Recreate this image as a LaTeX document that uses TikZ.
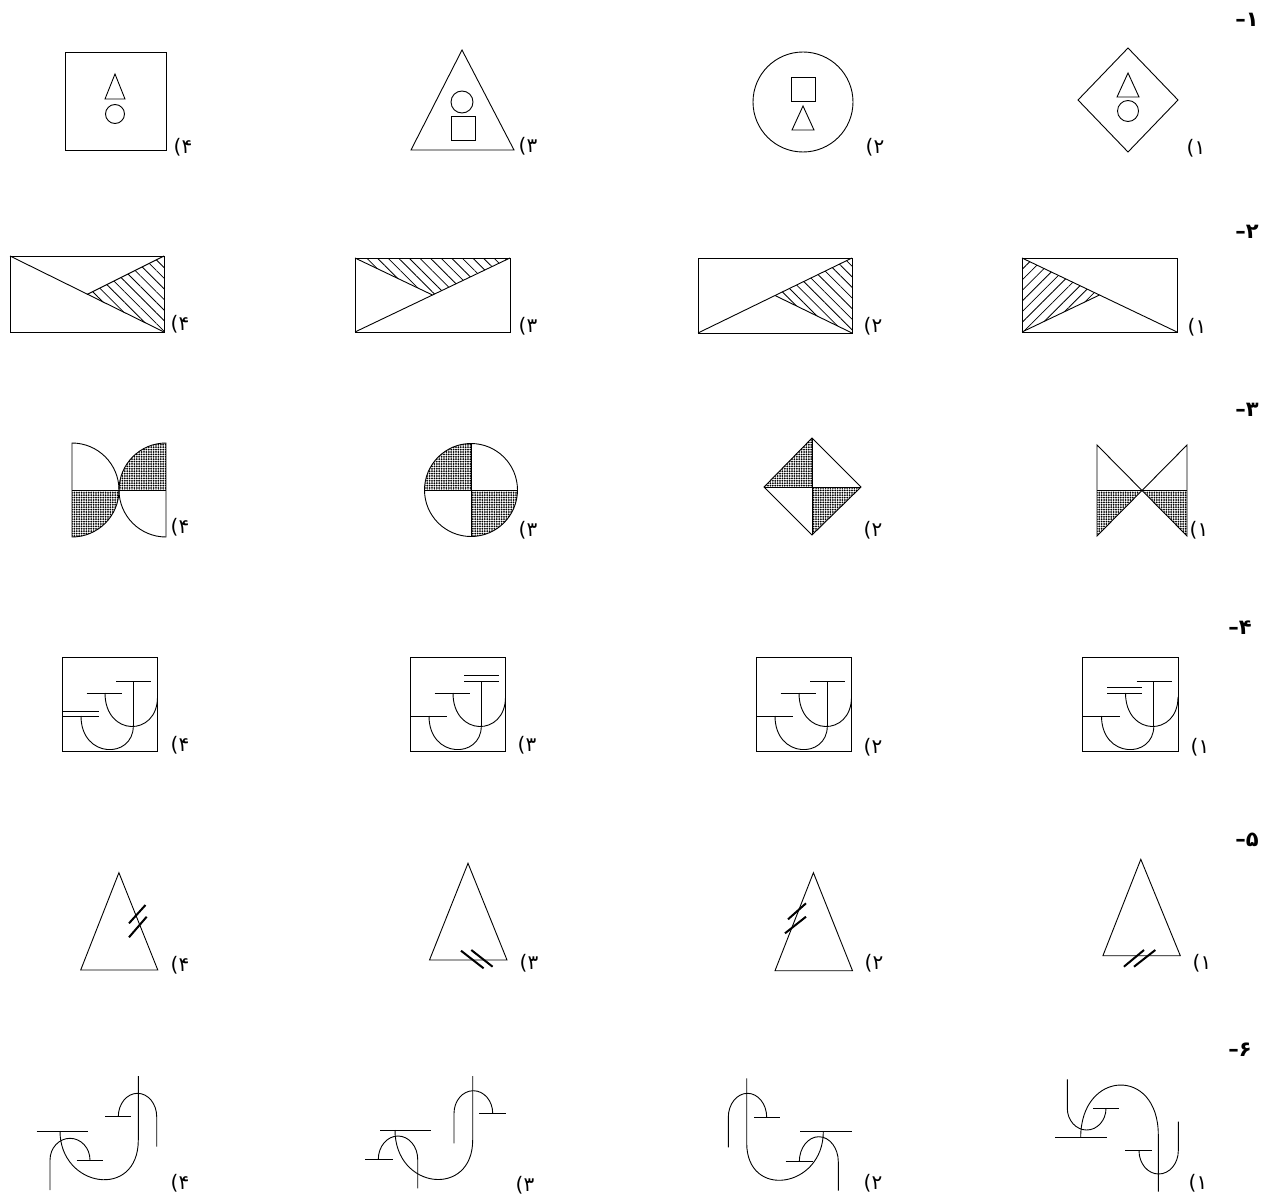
\documentclass[tikz,border=0pt]{standalone}
\usepackage{fontspec}
\newfontfamily\persianfont[Script=Arabic]{DejaVu Sans}
\newfontfamily\plainfont{DejaVu Sans}
\usetikzlibrary{patterns.meta}

\begin{document}
\begin{tikzpicture}[x=1pt,y=-1pt,
fig/.style={line width=0.9pt,line join=miter},
tick/.style={line width=2pt},
hatchL/.style={pattern={Lines[angle=45,distance=7.5pt,line width=0.8pt]}},
hatchR/.style={pattern={Lines[angle=-45,distance=7.5pt,line width=0.8pt]}},
dots/.style={pattern={Dots[distance=2.4pt,radius=1pt]}},
lbl/.style={font=\fontsize{20}{20}\selectfont,inner sep=0pt},
num/.style={font=\bfseries\fontsize{21}{21}\selectfont,inner sep=0pt}]
\useasboundingbox (0,0) rectangle (1268,1196);

% row 1
\node[num] (q1) at (1247,20) {\plainfont –\persianfont ۱};
\draw[fig] (65,52) rectangle (166,150);
\draw[fig] (115,74) -- (105,99) -- (125,99) -- cycle;
\draw[fig] (115,114) circle[radius=9.5];
\node[lbl] (a14) at (183,147) {\plainfont (\persianfont ۴};
\draw[fig] (462,50) -- (411,150) -- (514,150) -- cycle;
\draw[fig] (462,102) circle[radius=11];
\draw[fig] (451,116) rectangle (475,140);
\node[lbl] (a13) at (528,146) {\plainfont (\persianfont ۳};
\draw[fig] (803,102) circle[radius=50];
\draw[fig] (791,77) rectangle (815,101);
\draw[fig] (803,106) -- (792,130) -- (814,130) -- cycle;
\node[lbl] (a12) at (875,147) {\plainfont (\persianfont ۲};
\draw[fig] (1128,48) -- (1178,100) -- (1128,152) -- (1078,100) -- cycle;
\draw[fig] (1128,73) -- (1117,97) -- (1139,97) -- cycle;
\draw[fig] (1128,111) circle[radius=10.5];
\node[lbl] (a11) at (1196,148) {\plainfont (\persianfont ۱};

% row 2
\node[num] (q2) at (1247,232) {\plainfont –\persianfont ۲};
\path[hatchR] (164,256) -- (164,332) -- (87,294.5) -- cycle;
\draw[fig] (10,256) rectangle (164,332);
\draw[fig] (10,256) -- (164,332);
\draw[fig] (164,256) -- (87,294.5);
\node[lbl] (a24) at (180,324) {\plainfont (\persianfont ۴};
\path[hatchR] (355,258) -- (510,258) -- (432.5,295) -- cycle;
\draw[fig] (355,258) rectangle (510,332);
\draw[fig] (355,332) -- (510,258);
\draw[fig] (355,258) -- (432.5,295);
\node[lbl] (a23) at (528,326) {\plainfont (\persianfont ۳};
\path[hatchR] (852,258) -- (852,333) -- (775,295.5) -- cycle;
\draw[fig] (698,258) rectangle (852,333);
\draw[fig] (698,333) -- (852,258);
\draw[fig] (852,333) -- (775,295.5);
\node[lbl] (a22) at (873,326) {\plainfont (\persianfont ۲};
\path[hatchL] (1022,258) -- (1022,332) -- (1099.5,295) -- cycle;
\draw[fig] (1022,258) rectangle (1177,332);
\draw[fig] (1022,258) -- (1177,332);
\draw[fig] (1022,332) -- (1099.5,295);
\node[lbl] (a21) at (1197,327) {\plainfont (\persianfont ۱};

% row 3
\node[num] (q3) at (1247,410) {\plainfont –\persianfont ۳};
\path[dots] (72,490) -- (119,490) arc[start angle=0,end angle=90,radius=47] -- cycle;
\path[dots] (166,490) -- (119,490) arc[start angle=180,end angle=270,radius=47] -- cycle;
\draw[fig] (72,443) arc[start angle=-90,end angle=90,radius=47] -- cycle;
\draw[fig] (166,443) arc[start angle=270,end angle=90,radius=47] -- cycle;
\draw[fig] (72,490) -- (166,490);
\node[lbl] (a34) at (180,527) {\plainfont (\persianfont ۴};
\path[dots] (471,490) -- (424.5,490) arc[start angle=180,end angle=270,radius=46.5] -- cycle;
\path[dots] (471,490) -- (517.5,490) arc[start angle=0,end angle=90,radius=46.5] -- cycle;
\draw[fig] (471,490) circle[radius=46.5];
\draw[fig] (471,443.5) -- (471,536.5);
\draw[fig] (424.5,490) -- (517.5,490);
\node[lbl] (a33) at (528,530) {\plainfont (\persianfont ۳};
\path[dots] (812,438) -- (764,487) -- (812,487) -- cycle;
\path[dots] (812,487) -- (861,487) -- (812,535) -- cycle;
\draw[fig] (812,438) -- (861,487) -- (812,535) -- (764,487) -- cycle;
\draw[fig] (812,438) -- (812,535);
\draw[fig] (764,487) -- (861,487);
\node[lbl] (a32) at (873,530) {\plainfont (\persianfont ۲};
\path[dots] (1097,490) -- (1142,490) -- (1097,536) -- cycle;
\path[dots] (1142,490) -- (1187,490) -- (1187,536) -- cycle;
\draw[fig] (1097,445) -- (1097,536) -- (1187,445) -- (1187,536) -- cycle;
\draw[fig] (1097,490) -- (1187,490);
\node[lbl] (a31) at (1199,530) {\plainfont (\persianfont ۱};

% row 4
\node[num] (q4) at (1240,628) {\plainfont –\persianfont ۴};
\begin{scope}[shift={(62,657)}]
\draw[fig] (0,0) rectangle (95.5,94.5);
\draw[fig] (54,24) -- (89,24) (71.3,24) -- (71.3,69);
\draw[fig] (24.7,36) -- (59.7,36);
\draw[fig] (43,36) .. controls (43,80) and (95.5,80) .. (95.5,40);
\draw[fig] (0,54) -- (37,54) (0,59) -- (37,59);
\draw[fig] (19,59) .. controls (19,102) and (71.3,102) .. (71.3,69);
\end{scope}
\node[lbl] (a44) at (180,745) {\plainfont (\persianfont ۴};
\begin{scope}[shift={(410,657)}]
\draw[fig] (0,0) rectangle (95.5,94.5);
\draw[fig] (54,18) -- (89,18) (54,24) -- (89,24) (71.3,24) -- (71.3,69);
\draw[fig] (24.7,36) -- (59.7,36);
\draw[fig] (43,36) .. controls (43,80) and (95.5,80) .. (95.5,40);
\draw[fig] (0,59) -- (37,59);
\draw[fig] (19,59) .. controls (19,102) and (71.3,102) .. (71.3,69);
\end{scope}
\node[lbl] (a43) at (527,745) {\plainfont (\persianfont ۳};
\begin{scope}[shift={(756,657)}]
\draw[fig] (0,0) rectangle (95.5,94.5);
\draw[fig] (54,24) -- (89,24) (71.3,24) -- (71.3,69);
\draw[fig] (24.7,36) -- (59.7,36);
\draw[fig] (43,36) .. controls (43,80) and (95.5,80) .. (95.5,40);
\draw[fig] (0,59) -- (37,59);
\draw[fig] (19,59) .. controls (19,102) and (71.3,102) .. (71.3,69);
\end{scope}
\node[lbl] (a42) at (873,747) {\plainfont (\persianfont ۲};
\begin{scope}[shift={(1082.5,657)}]
\draw[fig] (0,0) rectangle (95.5,94.5);
\draw[fig] (54,24) -- (89,24) (71.3,24) -- (71.3,69);
\draw[fig] (24.7,30) -- (59.7,30) (24.7,36) -- (59.7,36);
\draw[fig] (43,36) .. controls (43,80) and (95.5,80) .. (95.5,40);
\draw[fig] (0,59) -- (37,59);
\draw[fig] (19,59) .. controls (19,102) and (71.3,102) .. (71.3,69);
\end{scope}
\node[lbl] (a41) at (1200,747) {\plainfont (\persianfont ۱};

% row 5
\node[num] (q5) at (1247,840) {\plainfont –\persianfont ۵};
\draw[fig] (118.9,872.7) -- (80.7,970) -- (157.8,970) -- cycle;
\draw[tick] (129,923.3) -- (145.5,905) (129,937.3) -- (146.7,916.7);
\node[lbl] (a54) at (180,965) {\plainfont (\persianfont ۴};
\draw[fig] (468,863.3) -- (429.5,960) -- (507,960) -- cycle;
\draw[tick] (461,950.7) -- (483.6,968.3) (471.3,950) -- (492.6,966.7);
\node[lbl] (a53) at (529,963) {\plainfont (\persianfont ۳};
\draw[fig] (813.4,872.7) -- (775,970.7) -- (852.5,970.7) -- cycle;
\draw[tick] (788,919.3) -- (806,903.3) (785,933.3) -- (806,916.7);
\node[lbl] (a52) at (874,963) {\plainfont (\persianfont ۲};
\draw[fig] (1140.8,859.3) -- (1102.9,955.7) -- (1180.3,955.7) -- cycle;
\draw[tick] (1123.9,966.7) -- (1144,950) (1134,966.7) -- (1155.3,950);
\node[lbl] (a51) at (1202,963) {\plainfont (\persianfont ۱};

% row 6
\node[num] (q6) at (1240,1050) {\plainfont –\persianfont ۶};
\draw[fig] (138.3,1076) -- (138.3,1140) .. controls (138.3,1200) and (60,1188) .. (60,1131);
\draw[fig] (118.3,1116.7) arc[start angle=180,end angle=360,x radius=19.2,y radius=23.4] -- (156.7,1146.7);
\draw[fig] (105,1116.7) -- (130.7,1116.7);
\draw[fig] (36.7,1131) -- (88.3,1131);
\draw[fig] (50,1190) -- (50,1160) arc[start angle=180,end angle=360,x radius=20,y radius=21.7];
\draw[fig] (76.7,1160) -- (103.3,1160);
\node[lbl] (a64) at (180,1183) {\plainfont (\persianfont ۴};
\draw[fig] (472.7,1076) -- (472.7,1140) .. controls (472.7,1198) and (395,1190) .. (395,1130);
\draw[fig] (380,1130) -- (431,1130);
\draw[fig] (454,1143.3) -- (454,1113.3) arc[start angle=180,end angle=360,x radius=19.35,y radius=22.6];
\draw[fig] (479.3,1113.3) -- (506,1113.3);
\draw[fig] (378.3,1159.3) arc[start angle=180,end angle=360,x radius=19.7,y radius=23.3] -- (417.7,1188.3);
\draw[fig] (365,1159.3) -- (392.7,1159.3);
\node[lbl] (a63) at (525,1185) {\plainfont (\persianfont ۳};
\draw[fig] (746.7,1078.3) -- (746.7,1143) .. controls (746.7,1200) and (823.3,1188) .. (823.3,1131.7);
\draw[fig] (800,1131.7) -- (851.7,1131.7);
\draw[fig] (728.3,1147.3) -- (728.3,1117.3) arc[start angle=180,end angle=360,x radius=19.2,y radius=24];
\draw[fig] (754,1117.3) -- (780,1117.3);
\draw[fig] (799.3,1161.7) arc[start angle=180,end angle=360,x radius=19.5,y radius=25] -- (838.3,1190.7);
\draw[fig] (785.7,1161.7) -- (812.7,1161.7);
\node[lbl] (a62) at (873,1183) {\plainfont (\persianfont ۲};
\draw[fig] (1158.3,1191.7) -- (1158.3,1135) .. controls (1158.3,1066) and (1080.7,1070) .. (1080.7,1137.3);
\draw[fig] (1055,1137.3) -- (1106.7,1137.3);
\draw[fig] (1067.3,1079.3) -- (1067.3,1108.3) arc[start angle=180,end angle=0,x radius=19.35,y radius=21.7];
\draw[fig] (1093.3,1108.3) -- (1119.3,1108.3);
\draw[fig] (1139,1150.7) arc[start angle=180,end angle=0,x radius=19.65,y radius=23.3] -- (1178.3,1121.7);
\draw[fig] (1125,1150.7) -- (1151.7,1150.7);
\node[lbl] (a61) at (1198,1183) {\plainfont (\persianfont ۱};
\end{tikzpicture}
\end{document}
